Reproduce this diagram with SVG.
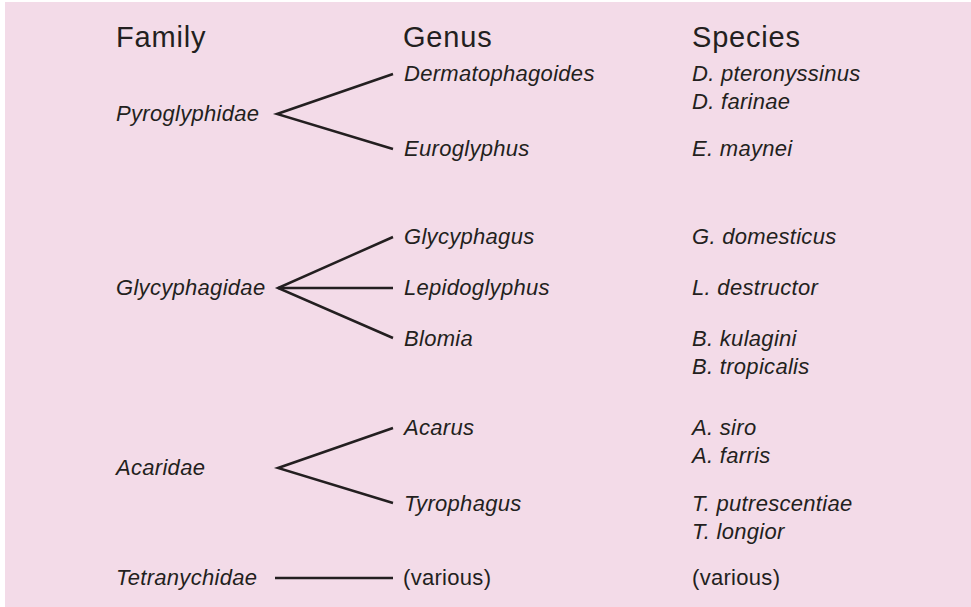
<svg xmlns="http://www.w3.org/2000/svg" width="971" height="607" viewBox="0 0 971 607">
<style>
.hd{font-family:"Liberation Sans",Arial,sans-serif;font-size:29px;fill:#231f20;letter-spacing:0.8px}
.it{font-family:"Liberation Sans",Arial,sans-serif;font-size:22px;font-style:italic;fill:#231f20;letter-spacing:0.3px}
.rg{font-family:"Liberation Sans",Arial,sans-serif;font-size:22px;fill:#231f20;letter-spacing:0.3px}
.ln{stroke:#231f20;stroke-width:2.5;fill:none;stroke-linecap:butt;stroke-linejoin:miter}
</style>
<rect x="0" y="0" width="971" height="607" fill="#ffffff"/>
<rect x="5" y="2" width="966" height="605" fill="#f3dbe8"/>
<g id="headers">
<text class="hd" x="116" y="47">Family</text>
<text class="hd" x="403" y="47">Genus</text>
<text class="hd" x="692" y="47">Species</text>
</g>
<g id="connectors">
<polyline class="ln" points="393,74 277,114 393,149"/>
<polyline class="ln" points="393,237 278,288 393,338"/>
<line class="ln" x1="278" y1="288" x2="393" y2="288"/>
<polyline class="ln" points="393,428 278,468 393,503"/>
<line class="ln" x1="275" y1="578" x2="393" y2="578"/>
</g>
<g id="family-pyroglyphidae"><text class="it" x="116" y="121">Pyroglyphidae</text></g>
<g id="family-glycyphagidae"><text class="it" x="116" y="295">Glycyphagidae</text></g>
<g id="family-acaridae"><text class="it" x="116" y="475">Acaridae</text></g>
<g id="family-tetranychidae"><text class="it" x="116" y="585">Tetranychidae</text></g>
<g id="genus-dermatophagoides"><text class="it" x="404" y="81">Dermatophagoides</text></g>
<g id="genus-euroglyphus"><text class="it" x="404" y="156">Euroglyphus</text></g>
<g id="genus-glycyphagus"><text class="it" x="404" y="244">Glycyphagus</text></g>
<g id="genus-lepidoglyphus"><text class="it" x="404" y="295">Lepidoglyphus</text></g>
<g id="genus-blomia"><text class="it" x="404" y="346">Blomia</text></g>
<g id="genus-acarus"><text class="it" x="404" y="435">Acarus</text></g>
<g id="genus-tyrophagus"><text class="it" x="404" y="511">Tyrophagus</text></g>
<g id="genus-various"><text class="rg" x="403" y="585">(various)</text></g>
<g id="species-dermatophagoides">
<text class="it" x="692" y="81">D. pteronyssinus</text>
<text class="it" x="692" y="109">D. farinae</text>
</g>
<g id="species-euroglyphus"><text class="it" x="692" y="156">E. maynei</text></g>
<g id="species-glycyphagus"><text class="it" x="692" y="244">G. domesticus</text></g>
<g id="species-lepidoglyphus"><text class="it" x="692" y="295">L. destructor</text></g>
<g id="species-blomia">
<text class="it" x="692" y="346">B. kulagini</text>
<text class="it" x="692" y="374">B. tropicalis</text>
</g>
<g id="species-acarus">
<text class="it" x="692" y="435">A. siro</text>
<text class="it" x="692" y="463">A. farris</text>
</g>
<g id="species-tyrophagus">
<text class="it" x="692" y="511">T. putrescentiae</text>
<text class="it" x="692" y="539">T. longior</text>
</g>
<g id="species-various"><text class="rg" x="692" y="585">(various)</text></g>
</svg>
